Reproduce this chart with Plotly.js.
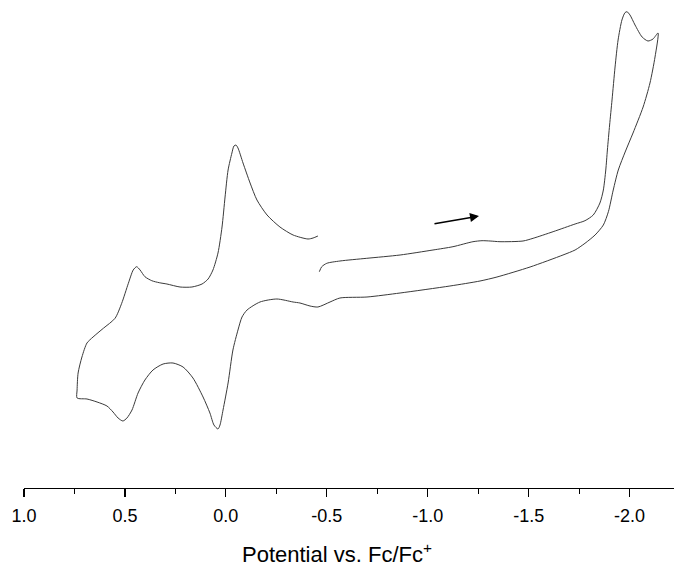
<!DOCTYPE html>
<html>
<head>
<meta charset="utf-8">
<script src="https://cdn.plot.ly/plotly-3.0.1.min.js"></script>
<style>
html,body{margin:0;padding:0;background:#fff;}
#chart{width:674px;height:573px;}
</style>
</head>
<body>
<div id="chart"></div>
<script>
// Potential (V vs Fc/Fc+), in scan order
const potential = [
 -0.463,-0.475,-0.500,-0.565,-0.698,-0.863,-1.026,-1.125,-1.224,-1.269,-1.309,-1.358,-1.472,-1.522,-1.621,-1.730,-1.779,-1.820,-1.853,-1.870,-1.882,-1.890,-1.901,-1.913,-1.928,-1.943,-1.962,-1.977,-1.987,-2.002,-2.027,-2.062,-2.091,-2.116,-2.141,
 -2.126,-2.101,-2.067,-2.017,-1.980,-1.944,-1.919,-1.895,-1.870,-1.829,-1.779,-1.730,-1.670,-1.507,-1.343,-1.259,-1.110,-0.863,-0.699,-0.565,-0.516,-0.456,-0.417,-0.367,-0.333,-0.253,-0.169,-0.105,-0.080,-0.060,-0.035,-0.011,0.014,0.029,0.039,0.059,0.079,0.113,0.163,0.212,0.262,0.311,0.361,0.401,0.435,0.465,0.490,0.510,0.534,0.559,0.589,0.638,0.688,0.737,
 0.737,0.732,0.713,0.688,0.658,0.607,0.549,0.516,0.483,0.459,0.442,0.425,0.401,0.367,0.330,0.292,0.227,0.168,0.118,0.088,0.064,0.039,0.019,0.004,-0.011,-0.030,-0.040,-0.050,-0.060,-0.085,-0.120,-0.154,-0.204,-0.268,-0.333,-0.407,-0.432,-0.456
];
// Current (arbitrary units), in scan order
const current = [
 2.83,3.33,3.67,3.9,4.17,4.5,5.0,5.33,5.83,5.93,5.9,5.83,5.9,6.17,6.83,7.6,7.93,8.5,9.7,11.0,13.0,15.0,17.5,20.0,23.3,26.0,28.0,28.73,28.83,28.5,27.5,26.3,25.9,26.1,26.7,
 24.3,21.7,19.3,16.7,14.9,13.0,11.0,8.83,7.5,6.5,5.67,5.0,4.5,3.3,2.3,1.9,1.4,0.7,0.3,0.2,-0.2,-0.7,-0.6,-0.3,-0.2,0.1,-0.2,-1.0,-1.7,-3.0,-5.0,-8.3,-11.0,-12.5,-12.9,-12.5,-11.3,-9.7,-7.8,-6.7,-6.3,-6.4,-7.0,-8.0,-9.3,-11.0,-11.8,-12.1,-11.8,-11.2,-10.6,-10.2,-9.9,-9.8,
 -9.0,-7.3,-5.7,-4.3,-3.7,-2.83,-1.83,-0.33,1.67,3.0,3.33,3.0,2.33,1.93,1.73,1.6,1.3,1.3,1.6,2.1,3.0,4.7,7.3,10.3,13.0,14.7,15.4,15.5,15.2,13.7,11.7,10.0,8.5,7.3,6.5,6.1,6.2,6.4
];
const tickVals = [1.0,0.5,0.0,-0.5,-1.0,-1.5,-2.0];
const tickText = ["1.0","0.5","0.0","-0.5","-1.0","-1.5","-2.0"];
const minorVals = [0.75,0.25,-0.25,-0.75,-1.25,-1.75];
const arrowTail = {x:-1.026, y:7.6};
const arrowHead = {x:-1.254, y:8.4};

const trace = {
  x: potential, y: current, type:'scatter', mode:'lines',
  line:{color:'#3a3a3a', width:1, shape:'spline', smoothing:0.7},
  hoverinfo:'skip'
};

const layout = {
  width:674, height:573,
  margin:{l:24, r:0, t:0, b:85},
  paper_bgcolor:'#fff', plot_bgcolor:'#fff',
  showlegend:false,
  font:{family:'Arial, "Liberation Sans", sans-serif', color:'#000'},
  xaxis:{
    range:[1.0,-2.22], autorange:false,
    showline:true, linecolor:'#000', linewidth:1.3,
    showgrid:false, zeroline:false,
    tickmode:'array', tickvals:tickVals, ticktext:tickText,
    ticks:'outside', ticklen:8, tickwidth:1.2, tickcolor:'#000',
    ticklabelstandoff:3,
    tickfont:{size:18, color:'#000'},
    minor:{tickmode:'array', tickvals:minorVals, ticks:'outside', ticklen:5, tickwidth:1.2, tickcolor:'#000', showgrid:false}
  },
  yaxis:{
    range:[-18.8,30], autorange:false,
    visible:false, showgrid:false, zeroline:false
  },
  annotations:[
    {x:arrowHead.x, y:arrowHead.y, ax:arrowTail.x, ay:arrowTail.y,
     xref:'x', yref:'y', axref:'x', ayref:'y',
     showarrow:true, text:'', arrowhead:2, arrowsize:1.2, arrowwidth:1.5, arrowcolor:'#000'},
    {text:'Potential vs. Fc/Fc<sup>+</sup>', xref:'paper', yref:'paper',
     x:(337-24)/650, y:0, yshift:-65, xanchor:'center', yanchor:'middle',
     showarrow:false, font:{size:22, color:'#000'}}
  ]
};

Plotly.newPlot('chart',[trace],layout,{staticPlot:true});
</script>
</body>
</html>
